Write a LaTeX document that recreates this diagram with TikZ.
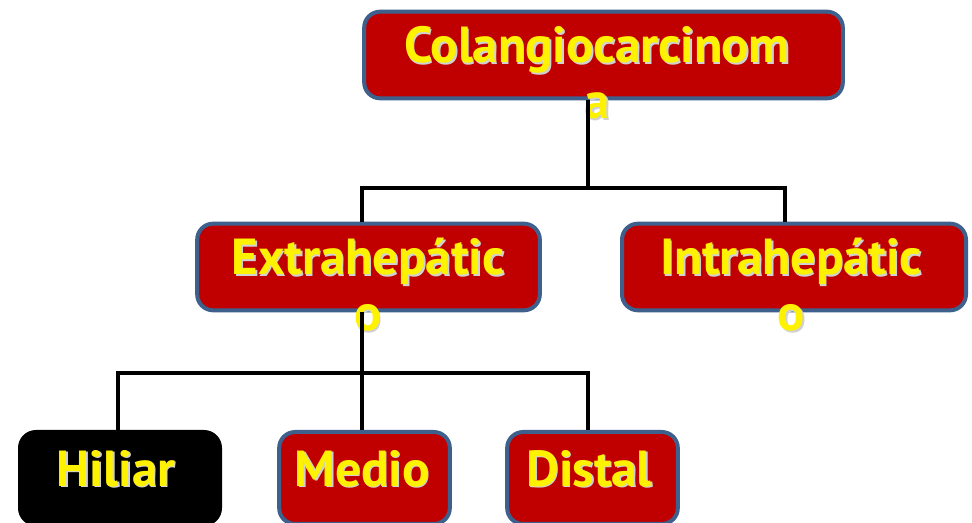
\documentclass[tikz,border=0pt]{standalone}
\usepackage{fontspec}
\setmainfont{PT Sans}
\usetikzlibrary{positioning}
\definecolor{boxred}{RGB}{192,0,0}
\definecolor{boxedge}{RGB}{62,96,140}
\newcommand{\glow}[1]{\makebox[0pt][l]{\hspace{1.2pt}\raisebox{-1.2pt}{\textcolor{black!18}{#1}}}#1}

\begin{document}
\begin{tikzpicture}[
	x=0.75pt, y=-0.75pt,
	box/.style={draw=boxedge, line width=3pt, fill=boxred, rounded corners=12pt, inner sep=0pt},
	dark box/.style={box, draw=black, fill=black},
	wide/.style={minimum width=#1, minimum height=65pt},
	small/.style={minimum width=#1, minimum height=69pt},
	caption/.style={text=yellow, font=\bfseries\fontsize{38}{42}\selectfont, align=center, inner sep=0pt, anchor=north},
	link/.style={draw=black, line width=3pt}
	]
	
	\useasboundingbox (0,0) rectangle (972,523);
	\clip (0,0) rectangle (972,523);
	
	% --- boxes ---
	\node[box, wide=359pt] (cc) at (603.5,55) {};
	\node[box, wide=257pt] (extra) at (368.5,267) {};
	\node[box, wide=258pt] (intra) at (794,267) {};
	\node[dark box, small=150pt] (hiliar) at (120,478) {};
	\node[box, small=128pt] (medio) at (364.5,478) {};
	\node[box, small=128pt] (distal) at (592.5,478) {};
	
	% --- labels ---
	\node[caption] (cc text) at (597,26) {\glow{Colangiocarcinom}\\\glow{a}};
	\node[caption] (extra text) at (368,238) {\glow{Extrahepátic}\\\glow{o}};
	\node[caption] (intra text) at (791,238) {\glow{Intrahepátic}\\\glow{o}};
	\node[caption] (hiliar text) at (116,450) {\glow{Hiliar}};
	\node[caption] (medio text) at (362,450) {\glow{Medio}};
	\node[caption] (distal text) at (589,450) {\glow{Distal}};
	
	% --- connectors ---
	\draw[link] ([shift={(-15.5,0)}]cc.south) -- ++(0,88) coordinate (fork1);
	\draw[link] ([shift={(-6.5,0)}]extra.north) |- (fork1) -| ([shift={(-9,0)}]intra.north);
	\draw[link] ([shift={(-6.5,0)}]extra.south) -- ++(0,61) coordinate (fork2) -- ([shift={(-2.5,0)}]medio.north);
	\draw[link] ([shift={(-2,0)}]hiliar.north) |- (fork2) -| ([shift={(-4.5,0)}]distal.north);
	
\end{tikzpicture}
\end{document}
